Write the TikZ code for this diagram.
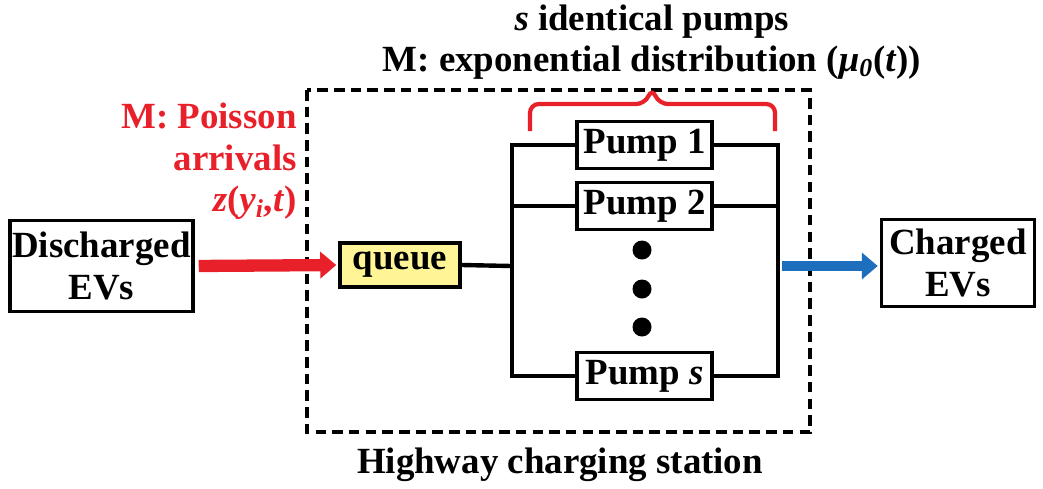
\documentclass[tikz,border=0pt]{standalone}
\usepackage{fontspec}
\setmainfont{Liberation Serif}
\usetikzlibrary{arrows.meta}
\definecolor{arrred}{RGB}{232,32,42}
\definecolor{arrblue}{RGB}{30,110,190}
\definecolor{queuefill}{RGB}{255,245,150}

\begin{document}
\begin{tikzpicture}[x=0.02cm,y=-0.02cm,
  every node/.style={font=\fontsize{21}{23.5}\selectfont\bfseries},
  box/.style={draw,line width=2pt,inner sep=0pt,align=center},
  pumpbox/.style={box,minimum width=2.7cm,minimum height=0.94cm},
  dot/.style={circle,fill=black,inner sep=0pt,minimum size=0.38cm},
  wire/.style={line width=2.5pt},
  fat/.style={line width=7pt,-{Triangle[length=0.32cm,width=0.52cm]}}]
\useasboundingbox (0,0) rectangle (1043,488);

% station frame
\draw[line width=1.9pt,dash pattern=on 6pt off 3.5pt] (307,90) rectangle (810,432);
\node (hcs) at (560,465) {Highway charging station};

\node[box,minimum width=3.66cm,minimum height=1.82cm] (dis) at (101.5,266) {Discharged\\EVs};
\node[box,minimum width=3.06cm,minimum height=1.74cm] (chg) at (958,263) {Charged\\EVs};
\node[box,fill=queuefill,minimum width=2.4cm,minimum height=0.88cm] (queue) at (400,265) {queue};

\node[pumpbox] (p1) at (644.5,145) {Pump 1};
\node[pumpbox] (p2) at (644.5,206) {Pump 2};
\node[pumpbox] (ps) at (644.5,376) {Pump \textit{s}};
\node[dot] (d1) at (642,250) {};
\node[dot] (d2) at (642,289) {};
\node[dot] (d3) at (642,327) {};

\coordinate (busl) at (512,266);
\coordinate (busr) at (778,266);
\draw[wire] (queue.east) -- (busl);
\draw[wire] (p1.west) -| (busl) |- (ps.west);
\draw[wire] (p1.east) -| (busr) |- (ps.east);
\draw[wire] (p2.west) -- (p2.west -| busl);
\draw[wire] (p2.east) -- (p2.east -| busr);

\draw[fat,arrred,shorten <=0.08cm,shorten >=0.04cm] (dis.east) -- (queue.west);
\draw[fat,arrblue,line width=6pt,shorten <=0.08cm,shorten >=0.04cm] (busr) -- (busr -| chg.west);

% brace over the pumps
\draw[arrred,line width=2.4pt,rounded corners=5pt] (530,131) -- (530,104) -- (645,104) -- (652,88) -- (659,104) -- (775,104) -- (775,131);

\node[align=center] (title) at (652,42) {\textit{s} identical pumps\\M: exponential distribution (\textit{μ}\textsubscript{\textit{0}}(\textit{t}))};
\node[arrred,align=right,anchor=north east,inner sep=0pt] (arr) at (297,103) {M: Poisson\\arrivals\\\textit{z}(\textit{y}\textsubscript{\textit{i}},\textit{t})};
\end{tikzpicture}
\end{document}
